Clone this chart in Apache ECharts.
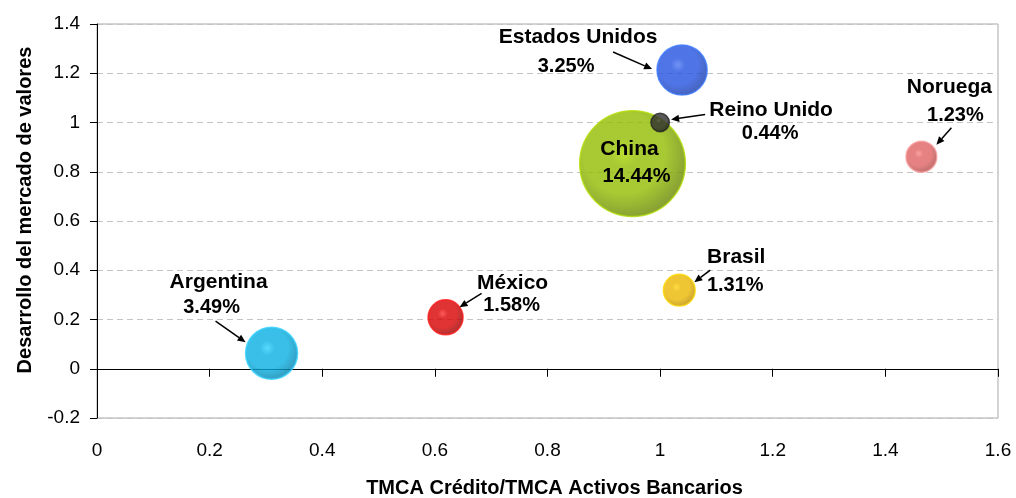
<!DOCTYPE html>
<html>
<head>
<meta charset="utf-8">
<script src="https://cdn.jsdelivr.net/npm/echarts@6/dist/echarts.min.js"></script>
<style>
  html, body { margin: 0; padding: 0; background: #ffffff; }
  #chart { width: 1016px; height: 498px; }
</style>
</head>
<body>
<div id="chart"></div>
<script>
// Countries and their indicators
const countries   = ['China', 'Estados Unidos', 'Argentina', 'México', 'Brasil', 'Noruega', 'Reino Unido'];
const creditRatio = [0.951, 1.039, 0.310, 0.619, 1.034, 1.464, 1.000]; // TMCA Crédito / TMCA Activos Bancarios
const marketDev   = [0.833, 1.213, 0.063, 0.209, 0.319, 0.861, 1.000]; // Desarrollo del mercado de valores
const sharePct    = [14.44, 3.25, 3.49, 1.58, 1.31, 1.23, 0.44];         // bubble size (%)

const FONT = '"Liberation Sans", Arial, Helvetica, sans-serif';

// Bubble shading per country: highlight, body, edge, rim
const palette = {
  'China':          { hi: '#acd800', mid: '#92bc00', edge: '#688600', rim: '#b0dc00' },
  'Estados Unidos': { hi: '#4f78f4', mid: '#2352e0', edge: '#173aa8', rim: '#3c7aff' },
  'Argentina':      { hi: '#30d0ff', mid: '#08b0e2', edge: '#0082ae', rim: '#34d2ff' },
  'México':         { hi: '#ff3030', mid: '#d80000', edge: '#940000', rim: '#ff1a1a' },
  'Brasil':         { hi: '#ffd414', mid: '#ebb700', edge: '#b88a00', rim: '#ffd800' },
  'Noruega':        { hi: '#fa8a8a', mid: '#e06262', edge: '#a84646', rim: '#f8a0a0' },
  'Reino Unido':    { hi: '#4c4c4c', mid: '#2e2e2e', edge: '#181818', rim: '#242424' }
};

// Annotation layout, pixel offsets from the bubble centre:
// name / pct = text centres, from / to = arrow tail and head
const labelLayout = {
  'China':          { name: [-3, -14],   pct: [4, 13] },
  'Estados Unidos': { name: [-104, -33], pct: [-116, -4],  from: [-69, -18], to: [-30, -1] },
  'Argentina':      { name: [-53, -71],  pct: [-60, -46],  from: [-56, -32], to: [-26, -11] },
  'México':         { name: [67, -34],   pct: [66, -12],   from: [36, -24],  to: [14, -10] },
  'Brasil':         { name: [57, -33],   pct: [56, -5],    from: [31, -20],  to: [15, -8] },
  'Noruega':        { name: [28, -70],   pct: [34, -41],   from: [30, -29],  to: [15, -12] },
  'Reino Unido':    { name: [111, -12],  pct: [110, 11],   from: [45, -8],   to: [11, -3] }
};

const bubbleDiameter = v => 27.8 * Math.sqrt(v);
const fmtPct = v => v.toFixed(2) + '%';

const bubbleData = countries.map((name, i) => {
  const p = palette[name];
  return {
    name: name,
    value: [creditRatio[i], marketDev[i], sharePct[i]],
    itemStyle: {
      color: new echarts.graphic.RadialGradient(0.42, 0.4, 0.62, [
        { offset: 0, color: p.hi },
        { offset: 0.22, color: p.mid },
        { offset: 0.62, color: p.mid },
        { offset: 1, color: p.edge }
      ]),
      borderColor: p.rim,
      borderWidth: 1.5
    }
  };
}).sort((a, b) => b.value[2] - a.value[2]);

const labelData = countries.map((name, i) => [creditRatio[i], marketDev[i], i]);

function textEl(text, x, y, size) {
  return {
    type: 'text', x: x, y: y,
    style: {
      text: text, fill: '#000', fontSize: size, fontWeight: 'bold',
      fontFamily: FONT, align: 'center', verticalAlign: 'middle'
    }
  };
}

function renderLabel(params, api) {
  const i = api.value(2);
  const c = api.coord([api.value(0), api.value(1)]);
  const L = labelLayout[countries[i]];
  const children = [
    textEl(countries[i], c[0] + L.name[0], c[1] + L.name[1], 21),
    textEl(fmtPct(sharePct[i]), c[0] + L.pct[0], c[1] + L.pct[1], 20)
  ];
  if (L.from) {
    const sx = c[0] + L.from[0], sy = c[1] + L.from[1];
    const ex = c[0] + L.to[0],   ey = c[1] + L.to[1];
    const len = Math.hypot(ex - sx, ey - sy);
    const dx = (ex - sx) / len, dy = (ey - sy) / len;
    const head = 8, half = 3.6;
    const bx = ex - dx * head, by = ey - dy * head;
    children.push({
      type: 'line',
      shape: { x1: sx, y1: sy, x2: bx, y2: by },
      style: { stroke: '#000', lineWidth: 1.5 }
    });
    children.push({
      type: 'polygon',
      shape: { points: [[ex, ey], [bx - dy * half, by + dx * half], [bx + dy * half, by - dx * half]] },
      style: { fill: '#000' }
    });
  }
  return { type: 'group', children: children };
}

const chart = echarts.init(document.getElementById('chart'), null, { renderer: 'canvas' });

chart.setOption({
  backgroundColor: '#ffffff',
  animation: false,
  textStyle: { fontFamily: FONT },
  grid: {
    left: 97, right: 18, top: 24, bottom: 80,
    outerBoundsMode: 'none', containLabel: false,
    show: true, borderColor: '#a8a8a8', borderWidth: 1, backgroundColor: 'transparent'
  },
  xAxis: [
    {
      // axis line crossing at y = 0 with its ticks
      type: 'value', min: 0, max: 1.6, interval: 0.2, position: 'bottom',
      axisLine: { show: true, onZero: true, lineStyle: { color: '#000', width: 1 } },
      axisTick: { show: true, length: 8, lineStyle: { color: '#000', width: 1 } },
      axisLabel: { show: false },
      splitLine: { show: false }
    },
    {
      // tick labels and title along the bottom of the plot
      type: 'value', min: 0, max: 1.6, interval: 0.2, position: 'bottom',
      axisLine: { show: false, onZero: false },
      axisTick: { show: false },
      axisLabel: { show: true, fontSize: 19, color: '#000', margin: 23, fontFamily: FONT },
      splitLine: { show: false },
      name: 'TMCA Crédito/TMCA Activos Bancarios',
      nameLocation: 'middle', nameGap: 60,
      nameTextStyle: { fontSize: 20, fontWeight: 'bold', color: '#000', fontFamily: FONT, padding: [0, 0, 0, 14] }
    }
  ],
  yAxis: {
    type: 'value', min: -0.2, max: 1.4, interval: 0.2,
    axisLine: { show: true, onZero: false, lineStyle: { color: '#000', width: 1 } },
    axisTick: { show: true, length: 7, lineStyle: { color: '#000', width: 1 } },
    axisLabel: { fontSize: 19, color: '#000', margin: 17, fontFamily: FONT },
    splitLine: { show: true, lineStyle: { color: '#c4c4c4', type: [6, 4], width: 1 } },
    name: 'Desarrollo del mercado de valores',
    nameLocation: 'middle', nameGap: 62, nameRotate: 90,
    nameTextStyle: { fontSize: 20, fontWeight: 'bold', color: '#000', fontFamily: FONT, padding: [0, 0, 0, 22] }
  },
  series: [
    {
      type: 'scatter',
      xAxisIndex: 0,
      data: bubbleData,
      symbol: 'circle',
      symbolSize: val => bubbleDiameter(val[2]),
      emphasis: { disabled: true },
      z: 2
    },
    {
      type: 'custom',
      xAxisIndex: 0,
      coordinateSystem: 'cartesian2d',
      data: labelData,
      encode: { x: 0, y: 1 },
      renderItem: renderLabel,
      clip: false,
      silent: true,
      z: 5
    }
  ]
});
</script>
</body>
</html>
